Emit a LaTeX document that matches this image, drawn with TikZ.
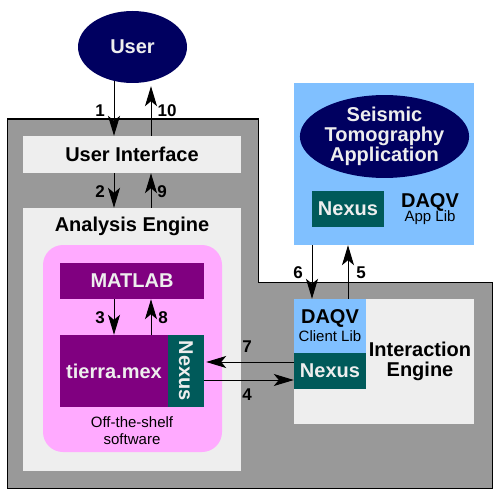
\documentclass[tikz,border=0pt]{standalone}
\usepackage{fontspec}
\setmainfont{Liberation Sans}
\usetikzlibrary{shapes.geometric,arrows.meta}
\definecolor{navy}{HTML}{000060}
\definecolor{panelgray}{HTML}{999999}
\definecolor{lightpanel}{HTML}{EEEEEE}
\definecolor{skyblue}{HTML}{80C0FF}
\definecolor{pinkbg}{HTML}{FFAAFF}
\definecolor{plum}{HTML}{800080}
\definecolor{darkteal}{HTML}{005A5A}
\tikzset{
  box/.style={rectangle, inner sep=0pt, anchor=center},
  bigfont/.style={font=\bfseries\fontsize{20}{20}\selectfont},
  smallfont/.style={font=\fontsize{15}{17}\selectfont},
  numfont/.style={font=\bfseries\fontsize{17}{18}\selectfont, inner sep=0pt},
  darktext/.style={text=lightpanel},
  basetext/.style={inner sep=0pt, anchor=base},
  arr/.style={-{Stealth[length=20pt,width=12pt,inset=5pt]}, line width=1pt, black},
}
\begin{document}
\begin{tikzpicture}[x=1pt,y=-1pt]
\useasboundingbox (0,0) rectangle (500,500);
\fill[white] (0,0) rectangle (500,500);
% gray outer area
\draw[fill=panelgray, line width=1pt] (7,119) -- (258,119) -- (258,282) -- (492,282) -- (492,488) -- (7,488) -- cycle;
% user
\node[ellipse, fill=navy, darktext, bigfont, minimum width=109pt, minimum height=72pt, inner sep=0pt] (user) at (132.5,47) {User};
% user interface
\node[box, fill=lightpanel, bigfont, minimum width=218pt, minimum height=37pt] (ui) at (132,154.5) {User Interface};
% analysis engine
\node[box, fill=lightpanel, minimum width=218pt, minimum height=263pt] (ae) at (132,339.5) {};
\node[bigfont, inner sep=0pt] (aelabel) at (132,226) {Analysis Engine};
\node[box, fill=pinkbg, rounded corners=20pt, minimum width=179pt, minimum height=207pt] (pink) at (132.5,348.5) {};
\node[box, fill=plum, darktext, bigfont, minimum width=144pt, minimum height=36pt] (matlab) at (132,281) {MATLAB};
\node[box, fill=plum, darktext, bigfont, minimum width=108pt, minimum height=72pt] (tierra) at (114,371) {tierra.mex};
\node[box, fill=darkteal, minimum width=36pt, minimum height=72pt] (nexusA) at (186,371) {};
\node[darktext, bigfont, inner sep=0pt, rotate=-90] (nexusAtext) at (nexusA.center) {Nexus};
\node[smallfont, align=center, inner sep=0pt] (offshelf) at (132,431) {Off-the-shelf\\software};
% application
\node[box, fill=skyblue, minimum width=180pt, minimum height=162pt] (app) at (384,164) {};
\node[ellipse, fill=navy, darktext, bigfont, align=center, minimum width=145pt, minimum height=75pt, inner sep=0pt] (seismic) at (384.5,136.5) {Seismic\\Tomography\\Application};
\node[box, fill=darkteal, darktext, bigfont, minimum width=72pt, minimum height=36pt] (nexusB) at (348,209) {Nexus};
\node[basetext, bigfont] (daqvapp) at (430,207) {DAQV};
\node[basetext, smallfont] (applib) at (430,221.5) {App Lib};
% interaction engine
\node[box, fill=lightpanel, minimum width=180pt, minimum height=125pt] (ie) at (384,361.5) {};
\node[box, fill=skyblue, minimum width=72pt, minimum height=54pt] (client) at (330,326) {};
\node[basetext, bigfont] (daqvclient) at (330,323) {DAQV};
\node[basetext, smallfont] (clientlib) at (330,341.5) {Client Lib};
\node[box, fill=darkteal, darktext, bigfont, minimum width=72pt, minimum height=36pt] (nexusC) at (330,371) {Nexus};
\node[bigfont, align=center, inner sep=0pt] (ielabel) at (420,361) {Interaction\\Engine};
% x positions
\coordinate (xl) at (114,0);
\coordinate (xr) at (151,0);
\coordinate (x6) at (312,0);
\coordinate (x5) at (348,0);
\coordinate (y7) at (0,362);
\coordinate (y4) at (0,380);
% arrows
\draw[arr, shorten <=-2pt] (user.south -| xl) -- (ui.north -| xl);
\draw[arr, shorten >=3pt] (ui.north -| xr) -- (user.south -| xr);
\draw[arr] (ui.south -| xl) -- (ae.north -| xl);
\draw[arr] (ae.north -| xr) -- (ui.south -| xr);
\draw[arr] (matlab.south -| xl) -- (tierra.north -| xl);
\draw[arr] (tierra.north -| xr) -- (matlab.south -| xr);
\draw[arr] (app.south -| x6) -- (client.north -| x6);
\draw[arr] (client.north -| x5) -- (app.south -| x5);
\draw[arr, shorten >=2pt] (nexusC.west |- y7) -- (nexusA.east |- y7);
\draw[arr] (nexusA.east |- y4) -- (nexusC.west |- y4);
% numbers
\node[numfont] (n1) at (100,111) {1};
\node[numfont] (n10) at (167,111) {10};
\node[numfont] (n2) at (100,192) {2};
\node[numfont] (n9) at (162,192) {9};
\node[numfont] (n3) at (100,318) {3};
\node[numfont] (n8) at (163,318) {8};
\node[numfont] (n7) at (247,347) {7};
\node[numfont] (n4) at (247,395) {4};
\node[numfont] (n6) at (298,273) {6};
\node[numfont] (n5) at (361,273) {5};
\end{tikzpicture}
\end{document}
